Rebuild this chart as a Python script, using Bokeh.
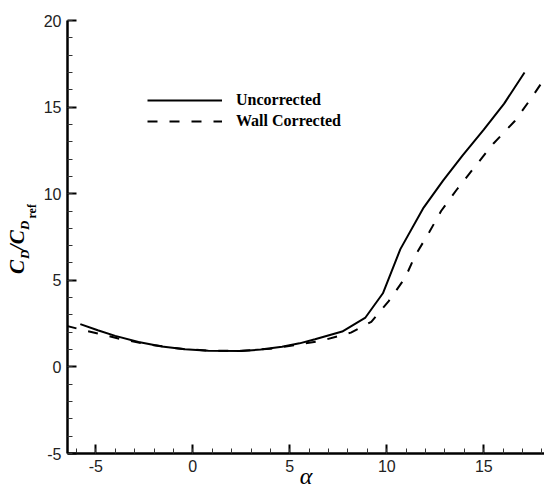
from math import pi
from bokeh.plotting import figure
from bokeh.layouts import row
from bokeh.models import (Range1d, SingleIntervalTicker, Label, Legend, LegendItem,
                          PrintfTickFormatter)
from bokeh.embed import file_html
from bokeh.resources import INLINE

# ---- data ----
alpha_uncorrected = [-5.8, -4.9, -4.0, -2.8, -1.6, -0.4, 0.8, 2.5, 3.5, 4.6, 5.5, 6.3,
                     7.7, 8.9, 9.8, 10.7, 11.9, 12.9, 13.9, 15.0, 16.05, 17.1]
cd_uncorrected = [2.47, 2.12, 1.79, 1.44, 1.18, 1.02, 0.93, 0.92, 1.0, 1.16, 1.36, 1.6,
                  2.04, 2.85, 4.25, 6.8, 9.2, 10.75, 12.2, 13.7, 15.2, 17.0]

alpha_wall = [-6.5, -4.9, -3.5, -2.0, -0.5, 1.0, 2.5, 4.0, 5.5, 6.6, 8.15, 9.2, 10.1,
              10.95, 11.45, 12.2, 12.8, 13.65, 14.5, 15.5, 16.6, 17.5, 18.1]
cd_wall = [2.36, 1.93, 1.55, 1.25, 1.03, 0.93, 0.93, 1.05, 1.3, 1.5, 1.98, 2.6, 3.8,
           5.15, 6.4, 7.8, 9.0, 10.3, 11.5, 12.9, 14.2, 15.6, 16.6]

series_labels = ["Uncorrected", "Wall Corrected"]
x_label = "α"
x_range = (-6.46, 18.13)
y_range = (-5, 20)
tick_interval = 5

LABEL_W = 40
W, H = 544, 492

# ---- main plot ----
p = figure(width=W - LABEL_W, height=H, output_backend="svg", toolbar_location=None,
           x_range=Range1d(*x_range), y_range=Range1d(*y_range),
           min_border_left=27, min_border_right=0, min_border_top=20, min_border_bottom=39)

p.xgrid.visible = False
p.ygrid.visible = False
p.outline_line_color = None

for ax in (p.xaxis[0], p.yaxis[0]):
    ax.ticker = SingleIntervalTicker(interval=tick_interval, num_minor_ticks=5)
    ax.formatter = PrintfTickFormatter(format="%d")
    ax.axis_line_width = 2.5
    ax.axis_line_color = "black"
    ax.major_tick_in = 9
    ax.major_tick_out = 0
    ax.minor_tick_in = 5
    ax.minor_tick_out = 0
    ax.major_tick_line_width = 2
    ax.major_tick_line_color = "black"
    ax.minor_tick_line_width = 1
    ax.minor_tick_line_color = "#333333"
    ax.major_label_text_font = "Liberation Sans"
    ax.major_label_text_font_size = "16px"
    ax.major_label_text_color = "#222222"
    ax.major_label_standoff = 6

p.xaxis.axis_label = x_label
p.xaxis.axis_label_text_font = "Liberation Serif"
p.xaxis.axis_label_text_font_style = "italic"
p.xaxis.axis_label_text_font_size = "24px"
p.xaxis.axis_label_text_color = "black"
p.xaxis.axis_label_standoff = -12

r1 = p.line(alpha_uncorrected, cd_uncorrected, line_width=2, color="black")
r2 = p.line(alpha_wall, cd_wall, line_width=2, color="black", line_dash="10 12")

legend = Legend(items=[LegendItem(label=series_labels[0], renderers=[r1]),
                       LegendItem(label=series_labels[1], renderers=[r2])],
                location=(80, 322), glyph_width=75, glyph_height=20, label_height=20,
                label_standoff=14, spacing=1, padding=0, margin=0,
                border_line_color=None, background_fill_alpha=0,
                label_text_font="Liberation Serif", label_text_font_style="bold",
                label_text_font_size="16px", label_text_color="black")
p.add_layout(legend)

# ---- y-axis title C_D / C_D_ref, drawn in a narrow side figure ----
q = figure(width=LABEL_W, height=H, output_backend="svg", toolbar_location=None,
           x_range=Range1d(0, LABEL_W), y_range=Range1d(H, 0),
           x_axis_location=None, y_axis_location=None,
           min_border_left=0, min_border_right=0, min_border_top=0, min_border_bottom=0)
q.xgrid.visible = False
q.ygrid.visible = False
q.outline_line_color = None

pieces = [
    ("C", 16, 288, "21px", "bold italic"),
    ("D", 24, 271, "13px", "bold italic"),
    ("/C", 16, 261, "21px", "bold italic"),
    ("D", 24, 238, "13px", "bold italic"),
    ("ref", 31.5, 225, "12px", "bold"),
]
for txt, x, y, fs, style in pieces:
    q.add_layout(Label(x=x, y=y, text=txt, angle=pi / 2,
                       text_align="left", text_baseline="alphabetic",
                       text_font="Liberation Serif", text_font_style=style,
                       text_font_size=fs, text_color="black"))

layout = row(q, p, spacing=0)
open("out.html", "w").write(file_html(layout, INLINE))
